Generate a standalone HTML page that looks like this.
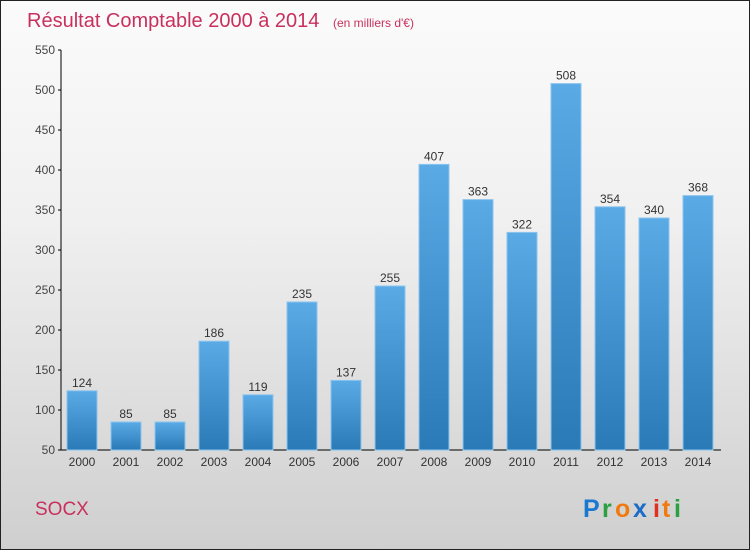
<!DOCTYPE html>
<html><head><meta charset="utf-8"><style>
body{margin:0}
#c{width:748px;height:548px;border:1px solid #222;background:linear-gradient(#fbfbfb,#f0f0f0 40%,#cfcfcf);position:relative;overflow:hidden;font-family:"Liberation Sans",sans-serif}
</style></head><body>
<div id="c">
<svg id="s" width="748" height="548" xmlns="http://www.w3.org/2000/svg">
<defs><linearGradient id="g" x1="0" y1="0" x2="0" y2="1"><stop offset="0" stop-color="#5aaae6"/><stop offset="1" stop-color="#2a7ab8"/></linearGradient></defs>
<text x="26" y="26" font-size="20" fill="#c8305e">Résultat Comptable 2000 à 2014 <tspan font-size="12" dx="8">(en milliers d'€)</tspan></text>
<text x="34" y="514" font-size="19" fill="#c8305e">SOCX</text>
<g font-size="25" font-weight="bold">
<text x="582" y="516" fill="#1a78d0">P</text><text x="601" y="516" fill="#2aa040">r</text><text x="614" y="516" fill="#f07a10">o</text><text x="632" y="516" fill="#1a6cc8">x</text><text x="652" y="516" fill="#e03020">i</text><text x="661" y="516" fill="#f07a10">t</text><text x="673" y="516" fill="#2aa040">i</text>
</g>
<g id="plot"></g>
</svg>
</div>
<script>
const categories=["2000","2001","2002","2003","2004","2005","2006","2007","2008","2009","2010","2011","2012","2013","2014"];
const values=[124,85,85,186,119,235,137,255,407,363,322,508,354,340,368];
const yTicks=[50,100,150,200,250,300,350,400,450,500,550];
const NS="http://www.w3.org/2000/svg";
const p=document.getElementById('plot');
const y=v=>449-(v-50)*0.8;
const x=i=>81+i*44;
function mk(t,a){const e=document.createElementNS(NS,t);for(const k in a)e.setAttribute(k,a[k]);p.appendChild(e);return e;}
const ax=mk('line',{x1:60,y1:49,x2:60,y2:449,stroke:'#000'});


const xa=mk('line',{x1:60,y1:449,x2:720,y2:449,stroke:'#000'});


yTicks.forEach(v=>{
 mk('line',{x1:57,x2:60,y1:y(v),y2:y(v),stroke:'#000'});
 const t=mk('text',{x:54,y:y(v)+4,'font-size':12,fill:'#444','text-anchor':'end'});t.textContent=v;
 
 
});
categories.forEach((c,i)=>{
 const v=values[i];
 const r=mk('rect',{x:x(i)-15,y:y(v),width:30,height:449-y(v),fill:'url(#g)',stroke:'#8cc4ee','stroke-width':1});
 
 
 const l=mk('text',{x:x(i),y:y(v)-4,'font-size':12,fill:'#333','text-anchor':'middle'});l.textContent=v;
 
 
 const t=mk('text',{x:x(i),y:465,'font-size':12,fill:'#333','text-anchor':'middle'});t.textContent=c;
 
 
});
</script>
</body></html>
